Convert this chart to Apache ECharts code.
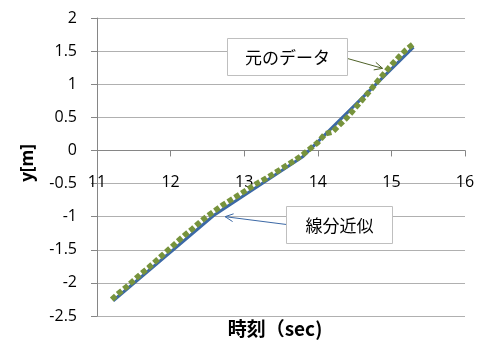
<!DOCTYPE html>
<html>
<head>
<meta charset="utf-8">
<script src="https://cdn.jsdelivr.net/npm/echarts@6/dist/echarts.min.js"></script>
<style>
  html, body { margin: 0; padding: 0; background: #ffffff; }
  #chart { width: 480px; height: 343px; }
</style>
</head>
<body>
<div id="chart"></div>
<script>
// Measured position over time (sampled every 0.1 s)
const timeSec = [
  11.2, 11.3, 11.4, 11.5, 11.6, 11.7, 11.8, 11.9, 12.0, 12.1,
  12.2, 12.3, 12.4, 12.5, 12.6, 12.7, 12.8, 12.9, 13.0, 13.1,
  13.2, 13.3, 13.4, 13.5, 13.6, 13.7, 13.8, 13.9, 14.0, 14.1,
  14.2, 14.3, 14.4, 14.5, 14.6, 14.7, 14.8, 14.9, 15.0, 15.1,
  15.2, 15.3
];
const posMeasured = [
  -2.25, -2.15, -2.06, -1.96, -1.86, -1.77, -1.67, -1.57, -1.47, -1.37,
  -1.27, -1.18, -1.08, -0.99, -0.91, -0.83, -0.76, -0.69, -0.62, -0.55,
  -0.48, -0.42, -0.35, -0.28, -0.21, -0.14, -0.06, 0.03, 0.12, 0.25,
  0.28, 0.39, 0.50, 0.63, 0.76, 0.89, 1.03, 1.16, 1.29, 1.41,
  1.52, 1.61
];

// Piecewise linear approximation (segment end points)
const fitTime = [11.22, 12.6, 13.8, 15.3];
const fitPos = [-2.27, -0.97, -0.09, 1.56];

// Axis ranges
const xRange = [11, 16, 1];
const yRange = [-2.5, 2, 0.5];

// Callout labels and the data points their arrows point to
const calloutMeasured = { text: '元のデータ', target: [14.88, 1.24] };
const calloutFit = { text: '線分近似', target: [12.74, -1.0] };

const axisFont = { fontFamily: '"Open Sans", sans-serif', fontSize: 16, color: '#000' };
const cjkFont = '"Noto Sans CJK JP", sans-serif';

const gridBox = { left: 97, right: 15, top: 18, bottom: 27 };
const chartHeight = 343;
const plotHeight = chartHeight - gridBox.top - gridBox.bottom;
// The time axis crosses the vertical axis at y = 0
const xAxisOffset = -plotHeight * (0 - yRange[0]) / (yRange[1] - yRange[0]);

const chart = echarts.init(document.getElementById('chart'), null, { renderer: 'canvas' });

chart.setOption({
  animation: false,
  backgroundColor: '#ffffff',
  grid: Object.assign({ containLabel: false, outerBoundsMode: 'none' }, gridBox),
  xAxis: {
    type: 'value',
    position: 'bottom',
    offset: xAxisOffset,
    min: xRange[0], max: xRange[1], interval: xRange[2],
    axisLine: { onZero: false, lineStyle: { color: '#868686', width: 1 } },
    axisTick: { show: true, inside: false, length: 6, lineStyle: { color: '#868686' } },
    axisLabel: Object.assign({ margin: 23, lineHeight: 18, showMinLabel: true, showMaxLabel: true,
                               hideOverlap: false }, axisFont),
    splitLine: { show: false }
  },
  yAxis: {
    type: 'value',
    min: yRange[0], max: yRange[1], interval: yRange[2],
    axisLine: { show: true, onZero: false, lineStyle: { color: '#868686', width: 1 } },
    axisTick: { show: true, inside: false, length: 6, lineStyle: { color: '#868686' } },
    axisLabel: Object.assign({ margin: 20 }, axisFont),
    splitLine: { show: true, lineStyle: { color: '#b0b0b0', width: 1 } }
  },
  series: [
    {
      name: '線分近似',
      type: 'line',
      data: fitTime.map((t, i) => [t, fitPos[i]]),
      showSymbol: false,
      lineStyle: { color: '#3c69a6', width: 3 },
      z: 2
    },
    {
      name: '元のデータ',
      type: 'line',
      data: timeSec.map((t, i) => [t, posMeasured[i]]),
      showSymbol: false,
      lineStyle: { color: '#77933c', width: 5.5, type: [5.5, 2.5], cap: 'butt' },
      z: 3
    }
  ]
});

// Axis titles, callout boxes and arrows
function arrow(from, to, color) {
  const dx = to[0] - from[0], dy = to[1] - from[1];
  const len = Math.hypot(dx, dy), ux = dx / len, uy = dy / len;
  const head = 9, spread = 0.45;
  const a1 = [to[0] - head * (ux * Math.cos(spread) - uy * Math.sin(spread)),
              to[1] - head * (uy * Math.cos(spread) + ux * Math.sin(spread))];
  const a2 = [to[0] - head * (ux * Math.cos(-spread) - uy * Math.sin(-spread)),
              to[1] - head * (uy * Math.cos(-spread) + ux * Math.sin(-spread))];
  return [
    { type: 'line', shape: { x1: from[0], y1: from[1], x2: to[0], y2: to[1] },
      style: { stroke: color, lineWidth: 1 }, z: 10 },
    { type: 'polyline', shape: { points: [a1, to, a2] },
      style: { stroke: color, lineWidth: 1, fill: null }, z: 10 }
  ];
}

function callout(box, text) {
  return [
    { type: 'rect', shape: { x: box[0], y: box[1], width: box[2], height: box[3] },
      style: { fill: '#ffffff', stroke: '#bfbfbf', lineWidth: 1 }, z: 11 },
    { type: 'text', x: box[0] + box[2] / 2, y: box[1] + box[3] / 2 + 1,
      style: { text: text, fontFamily: cjkFont, fontSize: 17, fill: '#000',
               align: 'center', verticalAlign: 'middle' }, z: 12 }
  ];
}

const tipMeasured = chart.convertToPixel({ gridIndex: 0 }, calloutMeasured.target);
const tipFit = chart.convertToPixel({ gridIndex: 0 }, calloutFit.target);

chart.setOption({
  graphic: [
    { type: 'text', x: 28, y: 163, rotation: Math.PI / 2,
      style: { text: 'y[m]', fontFamily: '"Open Sans", sans-serif', fontWeight: 'bold', fontSize: 17,
               fill: '#000', align: 'center', verticalAlign: 'middle' } },
    { type: 'text', x: 275, y: 329,
      style: { text: '時刻（sec)', fontFamily: cjkFont, fontWeight: 'bold', fontSize: 19,
               fill: '#000', align: 'center', verticalAlign: 'middle' } },
    ...arrow([347.5, 58.5], tipMeasured, '#4f6228'),
    ...callout([227.5, 38.5, 120, 37], calloutMeasured.text),
    ...arrow([286.5, 224.5], tipFit, '#3c69a6'),
    ...callout([286.5, 206.5, 106, 37], calloutFit.text)
  ]
});
</script>
</body>
</html>
